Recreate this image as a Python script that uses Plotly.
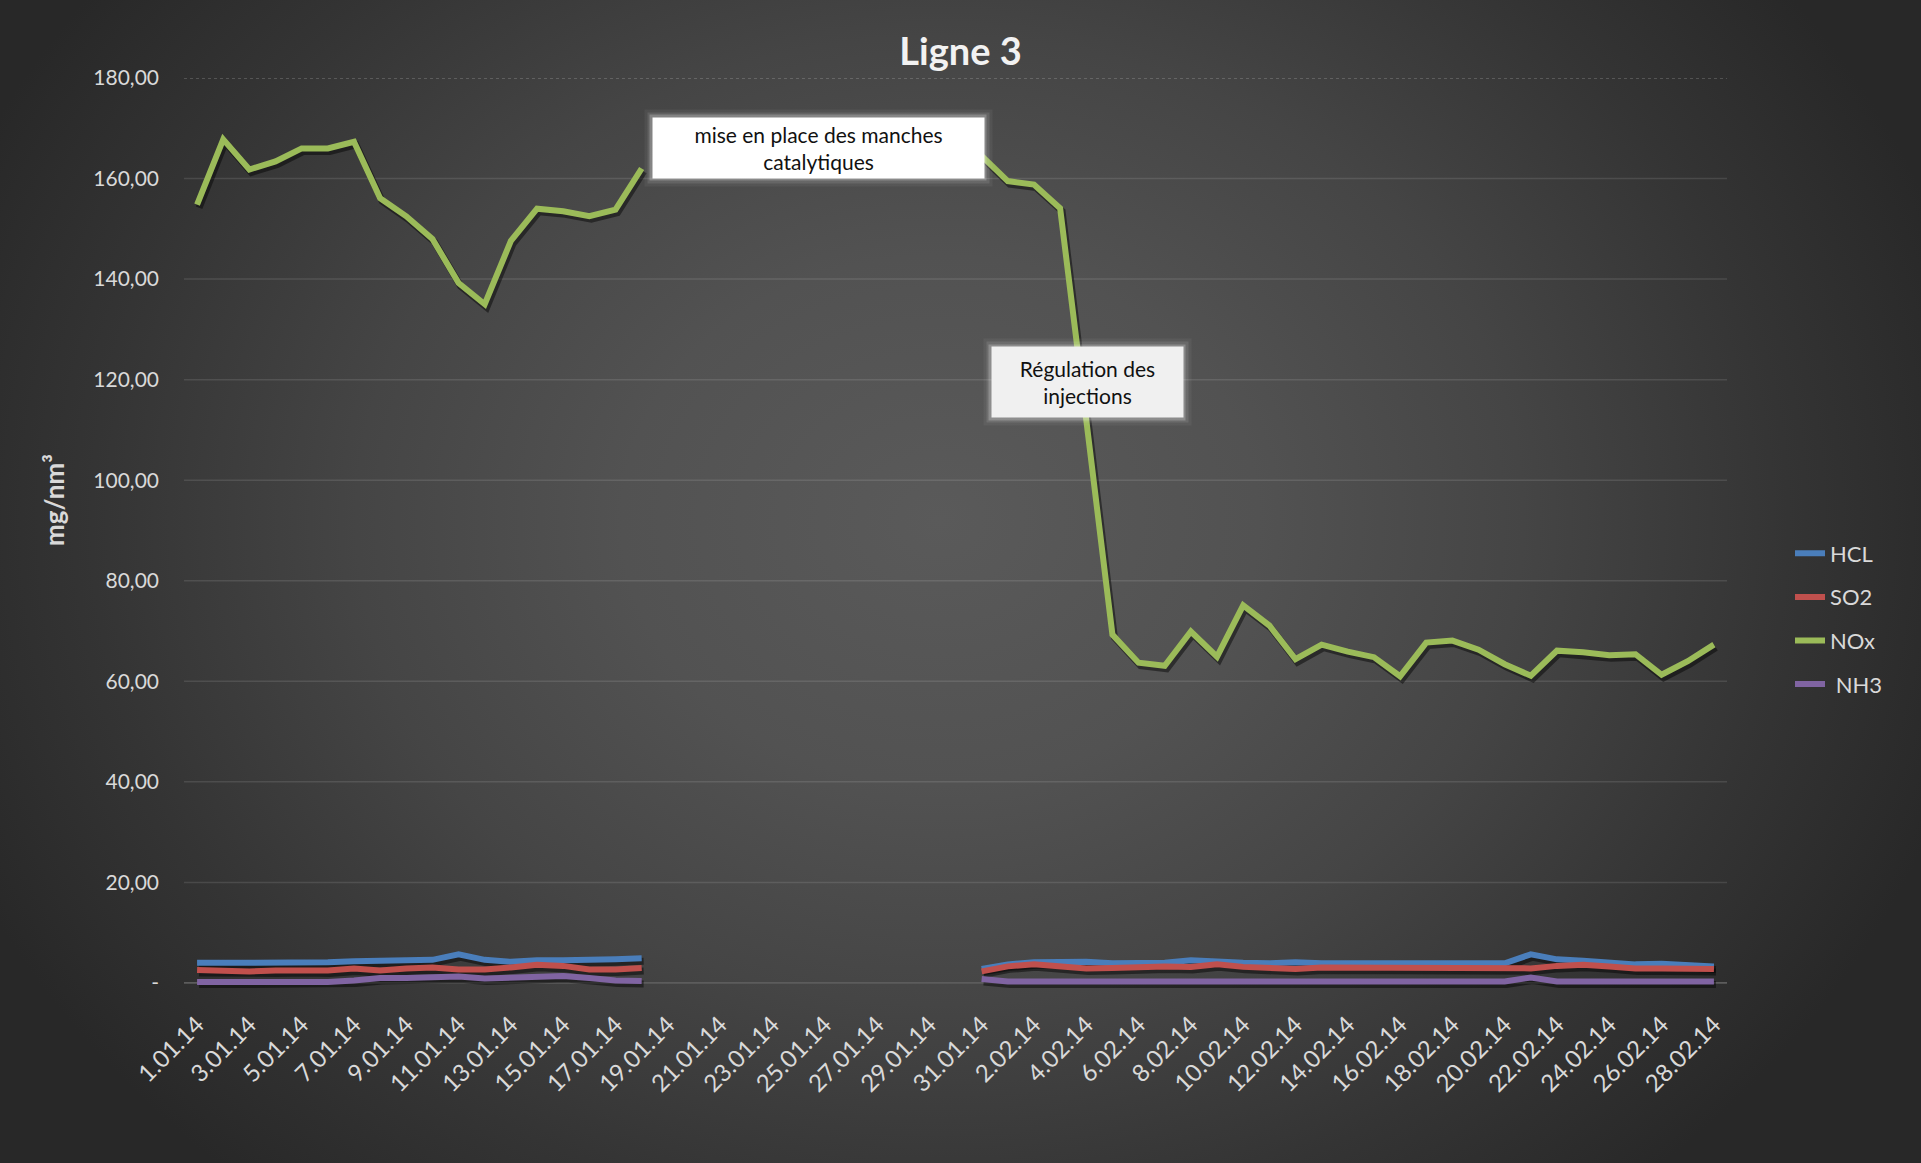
import base64
import plotly.graph_objects as go

# ---------------- data ----------------
categories = [
    "1.01.14", "2.01.14", "3.01.14", "4.01.14", "5.01.14", "6.01.14", "7.01.14", "8.01.14",
    "9.01.14", "10.01.14", "11.01.14", "12.01.14", "13.01.14", "14.01.14", "15.01.14", "16.01.14",
    "17.01.14", "18.01.14", "19.01.14", "20.01.14", "21.01.14", "22.01.14", "23.01.14", "24.01.14",
    "25.01.14", "26.01.14", "27.01.14", "28.01.14", "29.01.14", "30.01.14", "31.01.14",
    "1.02.14", "2.02.14", "3.02.14", "4.02.14", "5.02.14", "6.02.14", "7.02.14", "8.02.14",
    "9.02.14", "10.02.14", "11.02.14", "12.02.14", "13.02.14", "14.02.14", "15.02.14", "16.02.14",
    "17.02.14", "18.02.14", "19.02.14", "20.02.14", "21.02.14", "22.02.14", "23.02.14", "24.02.14",
    "25.02.14", "26.02.14", "27.02.14", "28.02.14",
]

tick_labels = [
    "1.01.14", "3.01.14", "5.01.14", "7.01.14", "9.01.14", "11.01.14", "13.01.14", "15.01.14",
    "17.01.14", "19.01.14", "21.01.14", "23.01.14", "25.01.14", "27.01.14", "29.01.14", "31.01.14",
    "2.02.14", "4.02.14", "6.02.14", "8.02.14", "10.02.14", "12.02.14", "14.02.14", "16.02.14",
    "18.02.14", "20.02.14", "22.02.14", "24.02.14", "26.02.14", "28.02.14",
]

y_tick_values = [0, 20, 40, 60, 80, 100, 120, 140, 160, 180]
y_tick_labels = ["-", "20,00", "40,00", "60,00", "80,00", "100,00", "120,00", "140,00", "160,00", "180,00"]

N = None
hcl = [4.0, 4.0, 4.0, 4.0, 4.0, 4.1, 4.3, 4.4, 4.4, 4.6, 5.7, 4.6, 4.2, 4.5, 4.5, 4.5, 4.7, 4.9,
       N, N, N, N, N, N, N, N, N, N, N, N,
       2.8, 3.7, 4.1, 4.2, 4.2, 3.9, 4.0, 4.0, 4.5, 4.2, 4.0, 3.9, 4.1, 3.9, 3.9, 3.9, 3.9,
       4.0, 3.9, 3.9, 3.9, 5.7, 4.7, 4.4, 4.0, 3.7, 3.8, 3.6, 3.3]

so2 = [2.6, 2.5, 2.3, 2.5, 2.6, 2.5, 2.9, 2.5, 2.9, 3.1, 2.7, 2.7, 3.1, 3.6, 3.4, 2.7, 2.7, 3.0,
       N, N, N, N, N, N, N, N, N, N, N, N,
       2.3, 3.3, 3.7, 3.3, 2.9, 3.0, 3.2, 3.3, 3.2, 3.7, 3.2, 3.1, 2.8, 3.1, 3.1, 3.1, 3.1,
       3.1, 3.1, 3.1, 3.1, 2.9, 3.4, 3.6, 3.3, 2.9, 2.9, 2.9, 2.8]

nox = [154.8, 167.8, 161.8, 163.4, 166.0, 166.0, 167.3, 156.1, 152.5, 148.0, 139.2, 135.0,
       147.6, 154.0, 153.5, 152.5, 153.8, 162.0,
       N, N, N, N, N, N, N, N, N, N, N, N,
       164.5, 159.5, 158.8, 154.1, 112.0, 69.3, 63.7, 63.1, 69.9, 64.9, 75.1, 71.1, 64.4,
       67.3, 65.9, 64.8, 61.0, 67.7, 68.1, 66.3, 63.4, 61.1, 66.1, 65.8, 65.2, 65.4, 61.3,
       64.0, 67.3]

nh3 = [0.2, 0.2, 0.2, 0.2, 0.2, 0.2, 0.5, 1.0, 1.0, 1.1, 1.3, 0.9, 1.0, 1.1, 1.4, 1.0, 0.5, 0.4,
       N, N, N, N, N, N, N, N, N, N, N, N,
       0.8, 0.3, 0.3, 0.3, 0.3, 0.3, 0.3, 0.3, 0.3, 0.3, 0.3, 0.3, 0.3, 0.3, 0.3, 0.3, 0.3,
       0.3, 0.3, 0.3, 0.3, 1.1, 0.3, 0.3, 0.3, 0.3, 0.3, 0.3, 0.3]

series_names = ["HCL", "SO2", "NOx", "\u00a0NH3"]
series_values = [hcl, so2, nox, nh3]
series_colors = ["#4a7ebb", "#c0504d", "#9bbb59", "#8064a2"]

# ---------------- geometry ----------------
W, H = 1921, 1163
ML, MR, MT, MB = 184, 194, 78, 175
PW, PH = W - ML - MR, H - MT - MB
Y0, Y1 = -1, 180
FONT = "Lato, 'Open Sans', sans-serif"
TXT = "#d9d9d9"

# shadow offset (px -> data units)
dx = 2.0 / (PW / len(categories))
dy = 3.0 * (Y1 - Y0) / PH

fig = go.Figure()

# shadows (on offset base axes)
for name, vals in zip(series_names, series_values):
    fig.add_trace(go.Scatter(x=categories, y=vals, mode="lines", xaxis="x", yaxis="y",
                             line=dict(color="rgba(0,0,0,0.45)", width=7),
                             showlegend=False, hoverinfo="skip"))

# main lines
for name, vals, col in zip(series_names, series_values, series_colors):
    fig.add_trace(go.Scatter(x=categories, y=vals, mode="lines", name=name,
                             xaxis="x2", yaxis="y2", legendgroup=name,
                             line=dict(color=col, width=6)))

# gridlines
shapes = []
for v in y_tick_values[1:-1]:
    shapes.append(dict(type="line", xref="paper", yref="y2", x0=0, x1=1, y0=v, y1=v,
                       line=dict(color="rgba(255,255,255,0.11)", width=1.5), layer="below"))
shapes.append(dict(type="line", xref="paper", yref="y2", x0=0, x1=1, y0=180, y1=180,
                   line=dict(color="rgba(255,255,255,0.35)", width=1, dash="dot"), layer="below"))
shapes.append(dict(type="line", xref="paper", yref="y2", x0=0, x1=1, y0=0, y1=0,
                   line=dict(color="#5c5c5c", width=1.8), layer="below"))

# background gradient
svg = (
    '<svg xmlns="http://www.w3.org/2000/svg" width="1921" height="1163" viewBox="0 0 1921 1163" '
    'preserveAspectRatio="none"><defs><radialGradient id="g" gradientUnits="userSpaceOnUse" '
    'cx="940" cy="520" r="1000" gradientTransform="translate(940 520) scale(1.06 0.88) translate(-940 -520)">'
    '<stop offset="0" stop-color="#5a5a5a"/><stop offset="0.3" stop-color="#525252"/>'
    '<stop offset="0.55" stop-color="#454545"/><stop offset="0.8" stop-color="#343434"/>'
    '<stop offset="1" stop-color="#282828"/></radialGradient></defs>'
    '<rect width="1921" height="1163" fill="url(#g)"/></svg>'
)
bg_src = "data:image/svg+xml;base64," + base64.b64encode(svg.encode()).decode()

def px_x(p):
    return (p - ML) / PW

def px_y(p):
    return (H - MB - p) / PH

annotations = []
boxes = [
    ("mise en place des manches<br>catalytiques", 818, 148, 331, 60, "#ffffff"),
    ("Régulation des<br>injections", 1087, 382, 191, 70, "#f0f0f0"),
]
for text, cx, cy, bw, bh, bg in boxes:
    for grow, alpha in ((16, 0.05), (10, 0.1), (5, 0.22)):
        annotations.append(dict(text=" ", xref="paper", yref="paper", x=px_x(cx), y=px_y(cy),
                                xanchor="center", yanchor="middle", showarrow=False,
                                width=bw + grow, height=bh + grow, borderpad=0,
                                bgcolor=f"rgba(255,255,255,{alpha})"))
    annotations.append(dict(text=text, xref="paper", yref="paper", x=px_x(cx), y=px_y(cy),
                            xanchor="center", yanchor="middle", showarrow=False,
                            width=bw, height=bh, borderpad=0, bgcolor=bg, align="center",
                            font=dict(family=FONT, size=21, color="#111111")))

# y-axis title
annotations.append(dict(text="mg/nm³", xref="paper", yref="paper", x=px_x(54), y=px_y(500),
                        xanchor="center", yanchor="middle", showarrow=False, textangle=-90,
                        font=dict(family=FONT, size=26, color=TXT, weight="bold")))

fig.update_layout(
    width=W, height=H,
    margin=dict(l=ML, r=MR, t=MT, b=MB, autoexpand=False),
    paper_bgcolor="#2c2c2c",
    plot_bgcolor="rgba(0,0,0,0)",
    font=dict(family=FONT, color=TXT),
    title=dict(text="Ligne 3", x=0.5, xanchor="center", y=1 - 52 / H, yanchor="middle",
               font=dict(family=FONT, size=38, color="#f2f2f2", weight="bold")),
    xaxis=dict(type="category", categoryorder="array", categoryarray=categories,
               range=[-0.5 - dx, len(categories) - 0.5 - dx], visible=False, fixedrange=True),
    yaxis=dict(range=[Y0 + dy, Y1 + dy], visible=False, fixedrange=True),
    xaxis2=dict(type="category", categoryorder="array", categoryarray=categories,
                overlaying="x", anchor="y2", side="bottom",
                range=[-0.5, len(categories) - 0.5],
                tickmode="array", tickvals=tick_labels, ticktext=tick_labels,
                tickangle=-45, tickfont=dict(family=FONT, size=24, color=TXT),
                showgrid=False, showline=False, zeroline=False, ticks="",
                ticklabelstandoff=17, fixedrange=True),
    yaxis2=dict(overlaying="y", anchor="x2", side="left", range=[Y0, Y1],
                tickmode="array", tickvals=y_tick_values, ticktext=y_tick_labels,
                tickfont=dict(family=FONT, size=21, color=TXT),
                showgrid=False, showline=False, zeroline=False, ticks="",
                ticklabelstandoff=24, fixedrange=True),
    legend=dict(x=px_x(1790), y=px_y(619), xanchor="left", yanchor="middle",
                traceorder="grouped", tracegroupgap=12, bgcolor="rgba(0,0,0,0)",
                font=dict(family=FONT, size=22, color=TXT)),
    shapes=shapes,
    annotations=annotations,
    images=[dict(source=bg_src, xref="paper", yref="paper", x=-ML / PW, y=1 + MT / PH,
                 sizex=W / PW, sizey=H / PH, xanchor="left", yanchor="top",
                 sizing="stretch", layer="below")],
    showlegend=True,
)

fig.write_html("out.html", config={"displayModeBar": False},
               post_script="document.body.style.margin='0';")
